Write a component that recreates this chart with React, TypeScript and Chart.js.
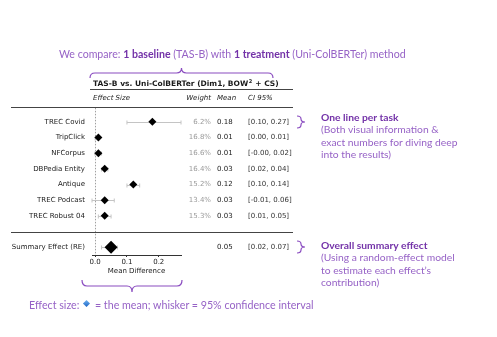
import React, { useEffect, useRef } from "react";
import { Chart, registerables } from "chart.js";

Chart.register(...registerables);

// ---------- data ----------
const tasks = ["TREC Covid", "TripClick", "NFCorpus", "DBPedia Entity", "Antique", "TREC Podcast", "TREC Robust 04"];
const weights = [6.2, 16.8, 16.6, 16.4, 15.2, 13.4, 15.3];
const means = [0.18, 0.01, 0.01, 0.03, 0.12, 0.03, 0.03];
const ciLow = [0.1, 0.0, -0.001, 0.02, 0.1, -0.01, 0.01];
const ciHigh = [0.27, 0.01, 0.02, 0.04, 0.14, 0.06, 0.05];
const summaryLabel = "Summary Effect (RE)";
const summaryMean = [0.05];
const summaryLow = [0.02];
const summaryHigh = [0.07];
const xTicks = [0.0, 0.1, 0.2];
const categories = [...tasks, "", summaryLabel];

const TABLE_FONT = "'DejaVu Sans'";
const NOTE_FONT = "Lato, 'Open Sans', sans-serif";
const PURPLE_B = "#7332a8";
const PURPLE = "#9662c6";
const FS = 7;

const fmt = (v: number) => v.toFixed(2);
const ci = (lo: number, hi: number) => `[${fmt(lo)}, ${fmt(hi)}]`;

const forestPlugin = {
  id: "forest",
  beforeDatasetsDraw(chart: any) {
    const { ctx, scales, chartArea } = chart;
    const x = scales.x;
    const y = scales.y;
    ctx.save();
    // zero reference line (dotted)
    const x0 = Math.round(x.getPixelForValue(0)) + 0.5;
    const top = y.getPixelForValue(0) - 14;
    ctx.strokeStyle = "#a0a0a0";
    ctx.lineWidth = 1;
    ctx.setLineDash([1.5, 1.5]);
    ctx.beginPath();
    ctx.moveTo(x0, top);
    ctx.lineTo(x0, chartArea.bottom);
    ctx.stroke();
    ctx.setLineDash([]);
    // whiskers
    const rows: [number, number, number][] = tasks.map((_, i) => [i, ciLow[i], ciHigh[i]]);
    rows.push([categories.indexOf(summaryLabel), summaryLow[0], summaryHigh[0]]);
    ctx.strokeStyle = "#c4c4c4";
    rows.forEach(([idx, lo, hi]) => {
      const py = Math.round(y.getPixelForValue(idx)) + 0.5;
      const a = x.getPixelForValue(lo);
      const b = x.getPixelForValue(hi);
      ctx.beginPath();
      ctx.moveTo(a, py);
      ctx.lineTo(b, py);
      ctx.moveTo(a, py - 2);
      ctx.lineTo(a, py + 2);
      ctx.moveTo(b, py - 2);
      ctx.lineTo(b, py + 2);
      ctx.stroke();
    });
    ctx.restore();
  },
  afterDraw(chart: any) {
    const { ctx, scales } = chart;
    const y = scales.y;
    ctx.save();
    const row0 = y.getPixelForValue(0);
    // title
    ctx.fillStyle = "#1a1a1a";
    ctx.textBaseline = "middle";
    ctx.textAlign = "left";
    ctx.font = `bold 7.5px ${TABLE_FONT}`;
    const t1 = "TAS-B vs. Uni-ColBERTer (Dim1, BOW";
    ctx.fillText(t1, 93, row0 - 38);
    const w1 = ctx.measureText(t1).width;
    ctx.font = `bold 5px ${TABLE_FONT}`;
    ctx.fillText("2", 93 + w1 + 0.5, row0 - 40.5);
    const w2 = ctx.measureText("2").width;
    ctx.font = `bold 7.5px ${TABLE_FONT}`;
    ctx.fillText(" + CS)", 93 + w1 + w2 + 1, row0 - 38);
    // lines
    ctx.strokeStyle = "#444";
    ctx.lineWidth = 1;
    const hline = (x1: number, x2: number, yy: number) => {
      const py = Math.round(yy) + 0.5;
      ctx.beginPath();
      ctx.moveTo(x1, py);
      ctx.lineTo(x2, py);
      ctx.stroke();
    };
    hline(90, 293, row0 - 33);
    hline(11, 293, row0 - 14.5);
    hline(11, 293, y.getPixelForValue(categories.indexOf("")));
    // header
    ctx.font = `italic ${FS}px ${TABLE_FONT}`;
    ctx.fillStyle = "#222";
    const hy = row0 - 24;
    ctx.textAlign = "left";
    ctx.fillText("Effect Size", 93, hy);
    ctx.textAlign = "right";
    ctx.fillText("Weight", 211, hy);
    ctx.textAlign = "left";
    ctx.fillText("Mean", 217, hy);
    ctx.fillText("CI 95%", 248, hy);
    // rows
    ctx.font = `${FS}px ${TABLE_FONT}`;
    tasks.forEach((_, i) => {
      const py = y.getPixelForValue(i);
      ctx.textAlign = "right";
      ctx.fillStyle = "#9a9a9a";
      ctx.fillText(`${weights[i].toFixed(1)}%`, 211, py);
      ctx.textAlign = "left";
      ctx.fillStyle = "#1a1a1a";
      ctx.fillText(fmt(means[i]), 217, py);
      ctx.fillStyle = "#333";
      ctx.fillText(ci(ciLow[i], ciHigh[i]), 248, py);
    });
    const sy = y.getPixelForValue(categories.indexOf(summaryLabel));
    ctx.fillStyle = "#1a1a1a";
    ctx.fillText(fmt(summaryMean[0]), 217, sy);
    ctx.fillStyle = "#333";
    ctx.fillText(ci(summaryLow[0], summaryHigh[0]), 248, sy);
    ctx.restore();
  },
};

function hBrace(x1: number, x2: number, yEnd: number, yTip: number, r: number) {
  const xm = (x1 + x2) / 2;
  const yBar = (yEnd + yTip) / 2;
  return `M${x1},${yEnd} Q${x1},${yBar} ${x1 + r},${yBar} L${xm - r},${yBar} Q${xm},${yBar} ${xm},${yTip} Q${xm},${yBar} ${xm + r},${yBar} L${x2 - r},${yBar} Q${x2},${yBar} ${x2},${yEnd}`;
}
function vBrace(y1: number, y2: number, xEnd: number, xTip: number, r: number) {
  const ym = (y1 + y2) / 2;
  const xBar = (xEnd + xTip) / 2;
  return `M${xEnd},${y1} Q${xBar},${y1} ${xBar},${y1 + r} L${xBar},${ym - r} Q${xBar},${ym} ${xTip},${ym} Q${xBar},${ym} ${xBar},${ym + r} L${xBar},${y2 - r} Q${xBar},${y2} ${xEnd},${y2}`;
}

export default function App() {
  const ref = useRef<HTMLCanvasElement>(null);
  useEffect(() => {
    if (!ref.current) return;
    const chart = new Chart(ref.current, {
      type: "scatter",
      data: {
        labels: categories,
        datasets: [
          {
            label: "studies",
            data: tasks.map((t, i) => ({ x: means[i], y: t })) as any,
            pointStyle: "rectRot",
            pointRadius: 4,
            backgroundColor: "#000",
            borderWidth: 0,
          },
          {
            label: "summary",
            data: [{ x: summaryMean[0], y: summaryLabel }] as any,
            pointStyle: "rectRot",
            pointRadius: 6.5,
            backgroundColor: "#000",
            borderWidth: 0,
          },
        ],
      },
      options: {
        animation: false,
        responsive: false,
        maintainAspectRatio: false,
        events: [],
        layout: { padding: { top: 114, bottom: 62, left: 0, right: 316 } },
        plugins: { legend: { display: false }, tooltip: { enabled: false } },
        scales: {
          y: {
            type: "category",
            labels: categories,
            offset: true,
            grid: { display: false, drawTicks: false },
            border: { display: false },
            ticks: { font: { family: TABLE_FONT, size: FS }, color: "#1a1a1a", padding: 7, autoSkip: false },
            afterFit: (s: any) => {
              s.width = 92;
            },
          },
          x: {
            type: "linear",
            min: -0.01,
            max: 0.27,
            afterBuildTicks: (s: any) => {
              s.ticks = xTicks.map((v) => ({ value: v }));
            },
            grid: { display: true, drawOnChartArea: false, drawTicks: true, tickLength: 2, color: "#333" },
            border: { display: true, color: "#333", width: 1 },
            ticks: {
              font: { family: TABLE_FONT, size: FS },
              color: "#1a1a1a",
              padding: 1,
              callback: (v: any) => Number(v).toFixed(1),
            },
            title: {
              display: true,
              text: "Mean Difference",
              font: { family: TABLE_FONT, size: FS },
              color: "#1a1a1a",
              padding: { top: 0, bottom: 0 },
            },
            afterFit: (s: any) => {
              s.height = 20;
            },
          },
        },
      },
      plugins: [forestPlugin],
    });
    return () => chart.destroy();
  }, []);

  const note: React.CSSProperties = {
    position: "absolute",
    fontFamily: NOTE_FONT,
    fontSize: 10.3,
    lineHeight: "12.4px",
    color: PURPLE,
    whiteSpace: "nowrap",
  };
  const b: React.CSSProperties = { fontWeight: 700, color: PURPLE_B };

  return (
    <div style={{ position: "absolute", left: 0, top: 0, width: 497, height: 337, background: "#fff", overflow: "hidden" }}>
      <canvas ref={ref} width={497} height={337} style={{ position: "absolute", left: 0, top: 0, width: 497, height: 337 }} />
      <svg width={497} height={337} style={{ position: "absolute", left: 0, top: 0, pointerEvents: "none" }}>
        <g fill="none" stroke="#8a4cc0" strokeWidth={1.2}>
          <path d={hBrace(90, 273, 78, 68, 5)} />
          <path d={hBrace(82, 182, 280, 292, 5)} />
          <path d={vBrace(116, 128, 297, 305, 3)} />
          <path d={vBrace(241, 253, 297, 305, 3)} />
        </g>
      </svg>
      <div style={{ ...note, fontSize: 10.6, left: 59, top: 47.5 }}>
        We compare: <span style={b}>1 baseline</span> (TAS-B) with <span style={b}>1 treatment</span> (Uni-ColBERTer) method
      </div>
      <div style={{ ...note, left: 321, top: 110.8 }}>
        <div style={b}>One line per task</div>
        <div>(Both visual information &amp;</div>
        <div>exact numbers for diving deep</div>
        <div>into the results)</div>
      </div>
      <div style={{ ...note, left: 321, top: 238.8 }}>
        <div style={b}>Overall summary effect</div>
        <div>(Using a random-effect model</div>
        <div>to estimate each effect’s</div>
        <div>contribution)</div>
      </div>
      <div style={{ ...note, fontSize: 10.7, left: 29, top: 298.5 }}>
        Effect size:{" "}
        <span
          style={{
            display: "inline-block",
            width: 5,
            height: 5,
            margin: "0 3px 0 2px",
            background: "linear-gradient(135deg, #6fb2f0, #1b63c4)",
            transform: "translateY(-3px) rotate(45deg)",
          }}
        />{" "}
        = the mean; whisker = 95% confidence interval
      </div>
    </div>
  );
}
